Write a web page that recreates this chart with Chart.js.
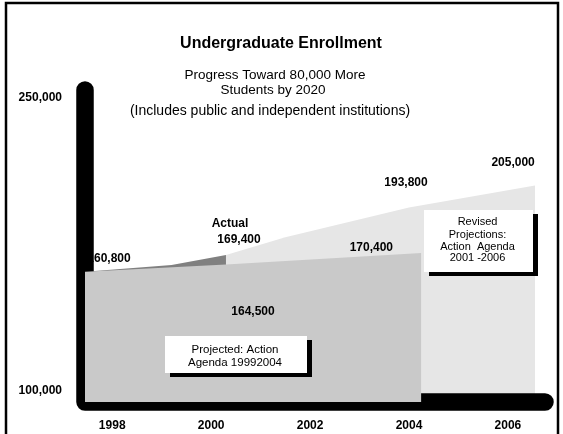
<!DOCTYPE html>
<html>
<head>
<meta charset="utf-8">
<title>Undergraduate Enrollment</title>
<script src="https://cdn.jsdelivr.net/npm/chart.js@4.4.1/dist/chart.umd.min.js"></script>
<style>
    html, body { margin: 0; padding: 0; background: #fff; }
    canvas { display: block; }
</style>
</head>
<body>
<canvas id="enrollChart" width="563" height="434"></canvas>
<script>
const FONT = '"Liberation Sans", Arial, sans-serif';

/* ---------- DATA ---------- */
// x is the year; the areas start right at the axis
const xTicks = [1998, 2000, 2002, 2004, 2006];
const yTicks = [100000, 250000];

const actualYears = [1997.45, 1999.2, 2000.3];
const actualValues = [160800, 164200, 169400];

const projectedYears = [1997.45, 2000.3, 2004.25];
const projectedValues = [160800, 164500, 170400];

const revisedYears = [2000.3, 2001.5, 2004, 2006.55];
const revisedValues = [169400, 178500, 193800, 205000];

// which point each number belongs to (dataset 0 revised, 1 actual, 2 projected)
const valueLabels = [
    { ds: 1, pt: 0, dx: 24, dy: -13 },
    { ds: 1, pt: 2, dx: 13, dy: -15, caption: "Actual" },
    { ds: 2, pt: 1, dx: 27, dy: 47 },
    { ds: 2, pt: 2, dx: -50, dy: -5 },
    { ds: 0, pt: 2, dx: -3, dy: -25 },
    { ds: 0, pt: 3, dx: -22, dy: -23 }
];

const notes = [
    { x: 424, y: 210, w: 109, h: 62, size: 11,
      lines: ["Revised", "Projections:", "Action  Agenda", "2001 -2006"], lineY: [12, 25, 37, 48] },
    { x: 165, y: 336, w: 142, h: 37, size: 11.5,
      lines: ["Projected: Action", "Agenda 19992004"], lineY: [14, 27] }
];

function toPoints(xs, ys) {
    return xs.map((x, i) => ({ x: x, y: ys[i] }));
}

function areaSet(label, xs, ys, color, order) {
    return {
        label: label,
        data: toPoints(xs, ys),
        backgroundColor: color,
        borderColor: "rgba(0,0,0,0)",
        borderWidth: 0,
        pointRadius: 0,
        tension: 0,
        fill: "start",
        order: order
    };
}

/* ---------- DRAWING EXTRAS ---------- */
const decorations = {
    id: "decorations",

    // thick rounded axes go over the actual area but under the projected one
    afterDatasetDraw(chart, args) {
        if (args.index !== 1) return;
        const ctx = chart.ctx;
        const a = chart.chartArea;
        ctx.save();
        ctx.strokeStyle = "#000";
        ctx.lineWidth = 17.5;
        ctx.lineCap = "round";
        ctx.lineJoin = "round";
        ctx.beginPath();
        ctx.moveTo(a.left, a.top);
        ctx.lineTo(a.left, a.bottom);
        ctx.lineTo(a.right, a.bottom);
        ctx.stroke();
        ctx.restore();
    },

    afterDatasetsDraw(chart) {
        const ctx = chart.ctx;
        ctx.save();
        ctx.textAlign = "center";
        ctx.textBaseline = "middle";
        ctx.fillStyle = "#000";
        ctx.font = "bold 12px " + FONT;

        valueLabels.forEach(l => {
            const p = chart.getDatasetMeta(l.ds).data[l.pt];
            const value = chart.data.datasets[l.ds].data[l.pt].y;
            const x = p.x + l.dx;
            const y = p.y + l.dy;
            ctx.fillText(value.toLocaleString("en-US"), x, y);
            if (l.caption) ctx.fillText(l.caption, x - 9, y - 16);
        });

        notes.forEach(n => {
            ctx.fillStyle = "#000";
            ctx.fillRect(n.x + 5, n.y + 4, n.w, n.h);
            ctx.fillStyle = "#fff";
            ctx.fillRect(n.x, n.y, n.w, n.h);
            ctx.fillStyle = "#000";
            ctx.font = n.size + "px " + FONT;
            n.lines.forEach((t, i) => ctx.fillText(t, n.x + n.w / 2 - 1, n.y + n.lineY[i]));
        });
        ctx.restore();
    },

    afterDraw(chart) {
        const ctx = chart.ctx;
        ctx.save();
        // frame
        ctx.strokeStyle = "#000";
        ctx.lineWidth = 2.5;
        ctx.beginPath();
        ctx.moveTo(6, 434);
        ctx.lineTo(6, 3);
        ctx.lineTo(558, 3);
        ctx.lineTo(558, 434);
        ctx.stroke();

        // titles
        ctx.fillStyle = "#000";
        ctx.textAlign = "center";
        ctx.textBaseline = "middle";
        ctx.font = "bold 16px " + FONT;
        ctx.fillText("Undergraduate Enrollment", 281, 44);
        ctx.font = "13.5px " + FONT;
        ctx.fillText("Progress Toward 80,000 More", 275, 75);
        ctx.fillText("Students by 2020", 273, 90);
        ctx.font = "14px " + FONT;
        ctx.fillText("(Includes public and independent institutions)", 270, 111);
        ctx.restore();
    }
};

/* ---------- CHART ---------- */
new Chart(document.getElementById("enrollChart"), {
    type: "line",
    data: {
        datasets: [
            areaSet("Revised Projections", revisedYears, revisedValues, "#e6e6e6", 3),
            areaSet("Actual", actualYears, actualValues, "#808080", 2),
            areaSet("Projected", projectedYears, projectedValues, "#c9c9c9", 1)
        ]
    },
    options: {
        responsive: false,
        animation: false,
        events: [],
        layout: { padding: { left: 0, top: 90, right: 18, bottom: 0 } },
        plugins: {
            legend: { display: false },
            tooltip: { enabled: false }
        },
        scales: {
            x: {
                type: "linear",
                min: 1997.45,
                max: 2006.75,
                grid: { display: false, drawTicks: false },
                border: { display: false },
                afterBuildTicks: s => { s.ticks = xTicks.map(v => ({ value: v })); },
                afterFit: s => { s.height = 32; },
                ticks: {
                    padding: 16,
                    color: "#000",
                    font: { family: FONT, size: 12, weight: "bold" },
                    callback: v => String(v)
                }
            },
            y: {
                min: 94000,
                max: 254000,
                grid: { display: false, drawTicks: false },
                border: { display: false },
                afterBuildTicks: s => { s.ticks = yTicks.map(v => ({ value: v })); },
                afterFit: s => { s.width = 85; },
                ticks: {
                    padding: 23,
                    color: "#000",
                    font: { family: FONT, size: 12, weight: "bold" },
                    callback: v => v.toLocaleString("en-US")
                }
            }
        }
    },
    plugins: [decorations]
});
</script>
</body>
</html>
